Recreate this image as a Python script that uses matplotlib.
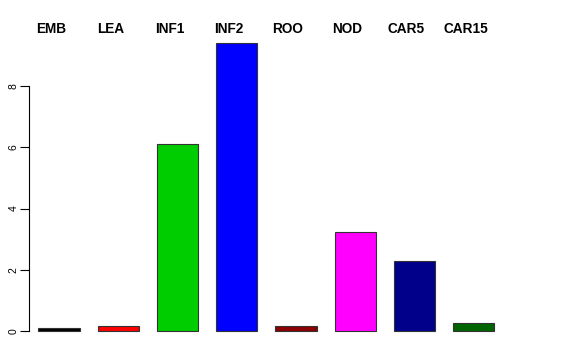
import numpy as np
import matplotlib
matplotlib.use("Agg")
import matplotlib.pyplot as plt
import matplotlib.transforms as mtransforms

# -------------------------------------------------------------
# Data
# -------------------------------------------------------------
categories = ['EMB', 'LEA', 'INF1', 'INF2', 'ROO', 'NOD', 'CAR5', 'CAR15']
values     = [0.11, 0.17, 6.11, 9.41, 0.17, 3.23, 2.29, 0.25]
colors     = ['#000000', '#FF0000', '#00CD00', '#0000FF',
              '#8B0000', '#FF00FF', '#00008B', '#006400']
yticks     = [0, 2, 4, 6, 8]

plt.rcParams['font.family'] = ['Liberation Sans', 'DejaVu Sans']

fig = plt.figure(figsize=(5.76, 3.6), dpi=100)
ax = fig.add_axes([0.0503, 0.0486, 0.8997, 0.8647])

x = np.arange(len(categories))
ax.bar(x, values, width=0.7, color=colors, edgecolor='#333333', linewidth=0.8)

ax.set_xlim(-0.507, 8.24)
ax.set_ylim(-0.376, 9.79)

# R-style axis: only left axis, line spanning tick range
for s in ['top', 'right', 'bottom']:
    ax.spines[s].set_visible(False)
ax.spines['left'].set_bounds(0, 8)
ax.spines['left'].set_linewidth(0.8)
ax.set_xticks([])
ax.set_yticks(yticks)
ax.set_yticklabels([str(t) for t in yticks], rotation=90, va='center', fontsize=7.5)
ax.tick_params(axis='y', length=6.5, width=0.8, pad=1)

# category labels above the plot
trans = mtransforms.blended_transform_factory(ax.transData, fig.transFigure)
for xi, lab in zip(x, categories):
    ax.text(xi - 0.135, 1 - 29 / 360, lab, transform=trans, ha='center', va='center',
            fontsize=9.8, fontweight='bold')

fig.savefig('out.png', dpi=100)
